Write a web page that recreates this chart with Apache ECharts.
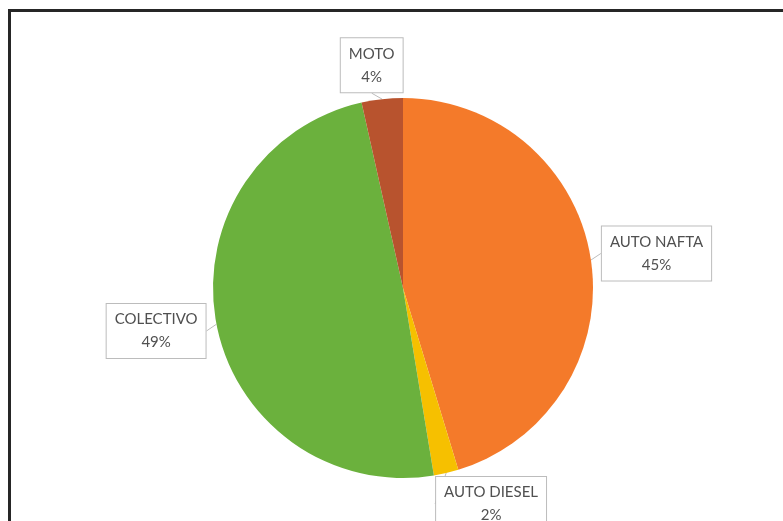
<!DOCTYPE html>
<html>
<head>
<meta charset="utf-8">
<script src="https://cdn.jsdelivr.net/npm/echarts@6/dist/echarts.min.js"></script>
<style>
  html, body { margin: 0; padding: 0; background: #fff; }
  #wrap { position: relative; width: 783px; height: 521px; overflow: hidden; background: #fff; }
  #frame { position: absolute; left: 8px; top: 9px; right: -5px; bottom: -5px;
           border-top: 3px solid #262626; border-left: 3px solid #262626; }
  #chart { position: absolute; left: 0; top: 0; width: 783px; height: 521px; }
</style>
</head>
<body>
<div id="wrap">
  <div id="chart"></div>
  <div id="frame"></div>
</div>
<script>
// Data
const categories = ['AUTO NAFTA', 'AUTO DIESEL', 'COLECTIVO', 'MOTO'];
const shares = [45.3, 2.1, 49.1, 3.5];

// Styles
const colors = ['#F47A2A', '#F6C000', '#6BB13D', '#B8532E'];
// anchor: which box edge sits next to the pointer; dx/dy offsets from pointer end
const labelPlacement = {
  'AUTO NAFTA':  { anchor: 'left',   dx: 6,   dy: -6 },
  'AUTO DIESEL': { anchor: 'top',    dx: -12, dy: -1 },
  'COLECTIVO':   { anchor: 'right',  dx: -6,  dy: 6 },
  'MOTO':        { anchor: 'bottom', dx: -10, dy: -2 }
};

const chart = echarts.init(document.getElementById('chart'), null, { renderer: 'canvas' });
chart.setOption({
  backgroundColor: 'transparent',
  animation: false,
  series: [{
    type: 'pie',
    center: [403, 288],
    radius: 190,
    startAngle: 90,
    clockwise: true,
    avoidLabelOverlap: false,
    data: categories.map((c, i) => ({ name: c, value: shares[i], itemStyle: { color: colors[i] } })),
    label: {
      show: true,
      position: 'outside',
      formatter: p => p.name + '\n' + Math.round(p.percent) + '%',
      fontFamily: 'Lato, "Open Sans", sans-serif',
      fontSize: 15,
      lineHeight: 23,
      color: '#505050',
      backgroundColor: '#fff',
      borderColor: '#bcbcbc',
      borderWidth: 1,
      padding: [4, 8, 4, 8],
      align: 'center'
    },
    labelLine: {
      show: true,
      length: 4,
      length2: 0,
      lineStyle: { color: '#bcbcbc', width: 1 }
    },
    labelLayout: function (params) {
      const cfg = labelPlacement[categories[params.dataIndex]];
      const pts = params.labelLinePoints;
      const end = pts ? pts[pts.length - 1] : [params.labelRect.x, params.labelRect.y];
      const w = params.labelRect.width, h = params.labelRect.height;
      let cx = end[0] + cfg.dx, cy = end[1] + cfg.dy;
      if (cfg.anchor === 'left') cx += w / 2;
      if (cfg.anchor === 'right') cx -= w / 2;
      if (cfg.anchor === 'top') { cy += h / 2; cx += w / 2; }
      if (cfg.anchor === 'bottom') cy -= h / 2;
      return { x: cx, y: cy, align: 'center', verticalAlign: 'middle' };
    },
    emphasis: { disabled: true }
  }]
});
</script>
</body>
</html>
